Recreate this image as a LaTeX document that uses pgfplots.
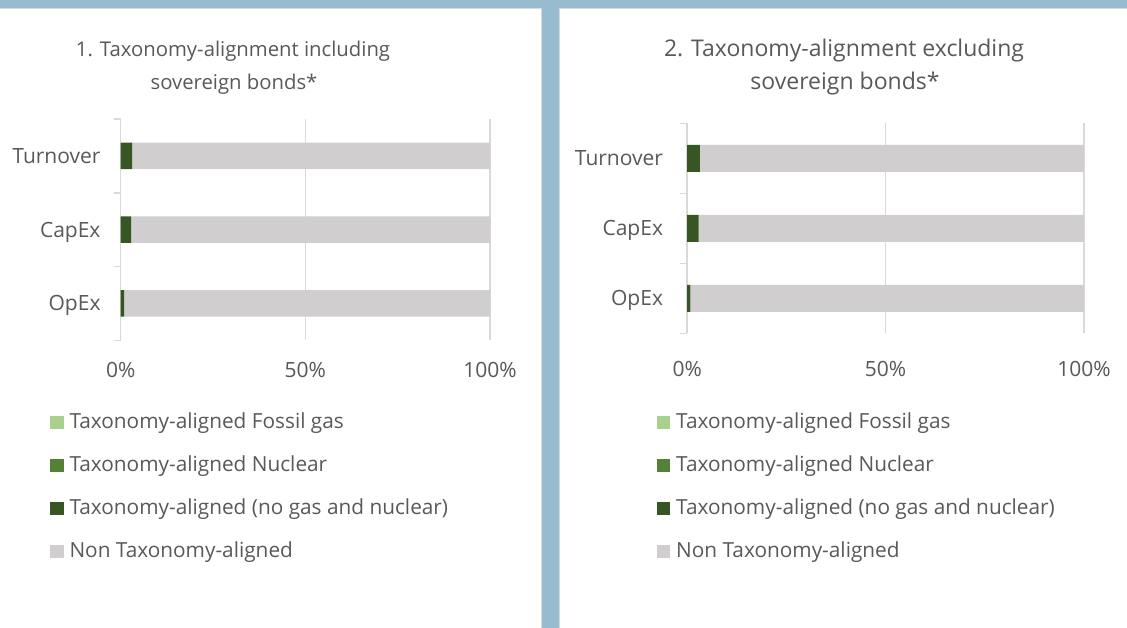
\documentclass[border=0pt]{standalone}
\usepackage{pgfplots}
\pgfplotsset{compat=1.18}
\usepackage{fontspec}
\setmainfont{Open Sans}
\definecolor{bg}{HTML}{97BCCF}
\definecolor{txt}{HTML}{595959}
\definecolor{gridc}{HTML}{D9D9D9}
\definecolor{gas}{HTML}{A9D18E}
\definecolor{nuc}{HTML}{548235}
\definecolor{tax}{HTML}{375623}
\definecolor{non}{HTML}{D0CECE}
\pgfplotsset{
 panel/.style={
  scale only axis, anchor=south west,
  xbar stacked,
  xmin=0, xmax=1, ymin=-0.5, ymax=2.5,
  ytick={0,1,2}, yticklabels={OpEx,CapEx,Turnover},
  xtick={0,0.5,1}, xticklabels={0\%,50\%,100\%},
  minor ytick={-0.5,0.5,1.5,2.5},
  tick align=outside,
  major tick length=0pt, minor tick length=7pt,
  axis lines*=left,
  x axis line style={draw=none},
  y axis line style={draw=gridc, line width=1.5pt},
  xtick style={draw=none},
  minor y tick style={draw=gridc, line width=1.5pt},
  xmajorgrids, grid style={draw=gridc, line width=1.5pt},
  tick label style={font=\fontsize{21}{25}\selectfont, text=txt, inner sep=0pt},
  yticklabel style={anchor=base east, yshift=-7.5pt},
  xticklabel style={anchor=base},
  legend cell align=left,
  legend style={draw=none, fill=none, anchor=north west, inner sep=0pt, outer sep=0pt,
     font=\fontsize{20.8}{24}\selectfont, text=txt,
     cells={anchor=base west},
     nodes={inner sep=0pt, text height=15pt, text depth=5pt},
     row sep=23pt, column sep=6pt},
  legend image code/.code={\fill[##1,draw=none] (0pt,0pt) rectangle (13.5pt,13pt);},
 }
}
\begin{document}
\begin{tikzpicture}
\useasboundingbox (0pt,0pt) rectangle (1127pt,628pt);
\fill[bg] (0pt,0pt) rectangle (1127pt,628pt);
\filldraw[fill=white, draw=gridc, line width=1pt] (-2pt,-2pt) rectangle (541.5pt,619pt);
\filldraw[fill=white, draw=gridc, line width=1pt] (559.5pt,-2pt) rectangle (1130pt,619pt);
\node[font=\fontsize{20.3}{30}\selectfont, text=txt, anchor=base] at (233pt,571pt) {1. Taxonomy-alignment including};
\node[font=\fontsize{20.3}{30}\selectfont, text=txt, anchor=base] at (234pt,538pt) {sovereign bonds*};
\node[font=\fontsize{23}{33}\selectfont, text=txt, anchor=base] at (844pt,571pt) {2. Taxonomy-alignment excluding};
\node[font=\fontsize{23}{33}\selectfont, text=txt, anchor=base] at (845pt,538pt) {sovereign bonds*};

\begin{axis}[panel, at={(120.7pt,287.6pt)}, width=369.3pt, height=221.4pt, bar width=26.5pt,
  yticklabel style={xshift=-20pt}, xticklabel style={yshift=-37.6pt},
  legend style={at={(axis description cs:-0.1914,-0.3324)}}]
\addplot[fill=gas, draw=none] coordinates {(0,0) (0,1) (0,2)};
\addplot[fill=nuc, draw=none] coordinates {(0,0) (0,1) (0,2)};
\addplot[fill=tax, draw=none] coordinates {(0.009,0) (0.028,1) (0.031,2)};
\addplot[fill=non, draw=none] coordinates {(0.991,0) (0.972,1) (0.969,2)};
\legend{Taxonomy-aligned Fossil gas, Taxonomy-aligned Nuclear, Taxonomy-aligned (no gas and nuclear), Non Taxonomy-aligned}
\end{axis}

\begin{axis}[panel, at={(687.2pt,294.5pt)}, width=396.7pt, height=210pt, bar width=27pt,
  yticklabel style={xshift=-24pt}, xticklabel style={yshift=-43pt},
  legend style={at={(axis description cs:-0.0769,-0.3833)}}]
\addplot[fill=gas, draw=none] coordinates {(0,0) (0,1) (0,2)};
\addplot[fill=nuc, draw=none] coordinates {(0,0) (0,1) (0,2)};
\addplot[fill=tax, draw=none] coordinates {(0.008,0) (0.029,1) (0.032,2)};
\addplot[fill=non, draw=none] coordinates {(0.992,0) (0.971,1) (0.968,2)};
\legend{Taxonomy-aligned Fossil gas, Taxonomy-aligned Nuclear, Taxonomy-aligned (no gas and nuclear), Non Taxonomy-aligned}
\end{axis}
\end{tikzpicture}
\end{document}
